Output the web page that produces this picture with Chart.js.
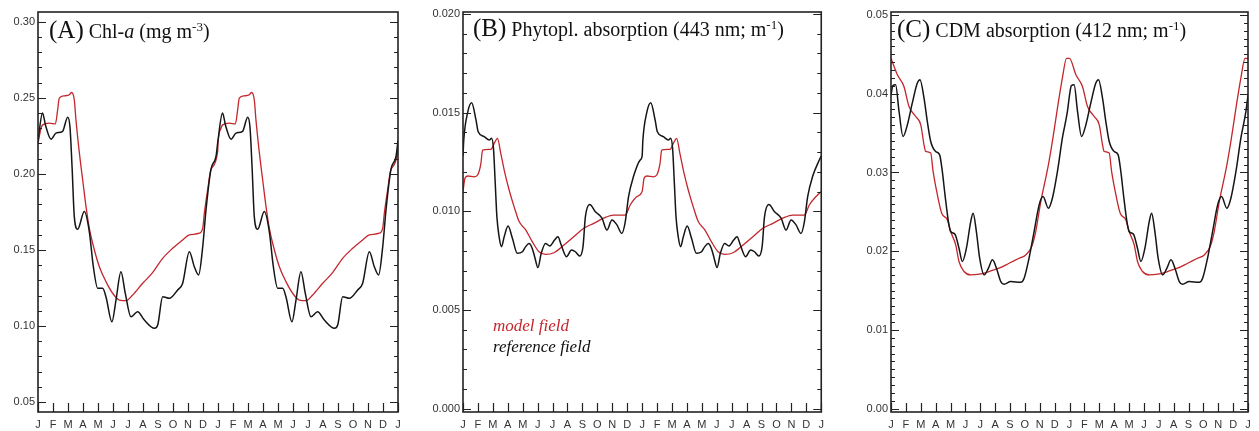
<!DOCTYPE html>
<html>
<head>
<meta charset="utf-8">
<script src="https://cdn.jsdelivr.net/npm/chart.js@4.4.0/dist/chart.umd.min.js"></script>
<style>
body { margin: 0; background: #fff; width: 1259px; height: 431px; position: relative; overflow: hidden; }
canvas { position: absolute; top: 0; }
.ttl { position: absolute; white-space: nowrap; color: #111; font-family: "Liberation Serif", "Times New Roman", serif; font-size: 20px; line-height: 24px; }
.ttl .big { font-size: 25px; }
.ttl sup { font-size: 13px; line-height: 0; vertical-align: 7px; }
.leg { position: absolute; left: 493px; top: 315px; font-family: "Liberation Serif", serif; font-style: italic; font-size: 17px; line-height: 21px; white-space: nowrap; }
</style>
</head>
<body>
<canvas id="chartA" width="410" height="431" style="left:0px"></canvas>
<canvas id="chartB" width="410" height="431" style="left:420px"></canvas>
<canvas id="chartC" width="409" height="431" style="left:850px"></canvas>

<div class="ttl" style="left:49px;top:18px"><span class="big">(A)</span> Chl-<i>a</i> (mg m<sup>-3</sup>)</div>
<div class="ttl" style="left:473px;top:16px"><span class="big">(B)</span> Phytopl. absorption (443 nm; m<sup>-1</sup>)</div>
<div class="ttl" style="left:897px;top:17px"><span class="big">(C)</span> CDM absorption (412 nm; m<sup>-1</sup>)</div>
<div class="leg"><div style="color:#c3262c">model field</div><div style="color:#111">reference field</div></div>

<script>
// month tick labels (two years + closing January)
const months = ["J","F","M","A","M","J","J","A","S","O","N","D",
                "J","F","M","A","M","J","J","A","S","O","N","D","J"];

// (A) Chl-a, one climatological year, x in months from 1 Jan
const chlRefX = [0, 0.3, 0.5, 0.87, 1.2, 1.64, 1.98, 2.13, 2.27, 2.42, 2.64, 3.09, 3.42, 3.69, 3.98, 4.31, 4.53, 4.93,
                 5.2, 5.53, 5.82, 6.2, 6.64, 7.09, 7.76, 7.98, 8.31, 8.76, 9.31, 9.64, 10.09, 10.42, 10.71, 10.98, 11.2, 11.53, 11.87];
const chlRef = [0.222, 0.240, 0.232, 0.2228, 0.2268, 0.228, 0.2373, 0.231, 0.2048, 0.1719, 0.1636, 0.1752, 0.1621, 0.139, 0.1248, 0.1248, 0.1193, 0.1028,
                0.1171, 0.1357, 0.1215, 0.1061, 0.1094, 0.1039, 0.0985, 0.1007, 0.1193, 0.1182, 0.1237, 0.128, 0.1489, 0.139, 0.1336, 0.152, 0.1763, 0.2029, 0.2116];
const chlModX = [0, 0.2, 0.31, 0.76, 1.16, 1.31, 1.42, 1.76, 2.09, 2.24, 2.42, 2.53, 2.76, 2.98, 3.2, 3.42, 3.76, 4.09, 4.53, 4.98,
                 5.42, 5.87, 6.31, 6.98, 7.64, 8.31, 8.98, 9.64, 10.09, 10.76, 10.98, 11.09, 11.31, 11.53, 11.98];
const chlMod = [0.220, 0.230, 0.2322, 0.2333, 0.2329, 0.2421, 0.2498, 0.2513, 0.252, 0.2535, 0.2486, 0.2355, 0.2136, 0.196, 0.1786, 0.1643, 0.150, 0.139, 0.1292, 0.1215,
                0.1171, 0.1167, 0.1204, 0.1281, 0.1351, 0.1445, 0.1511, 0.1566, 0.1599, 0.161, 0.1643, 0.1742, 0.1895, 0.2029, 0.2149];

// (B) phytoplankton absorption 443 nm
const aphRefX = [0, 0.05, 0.31, 0.58, 0.87, 1.02, 1.42, 1.76, 1.91, 2.04, 2.16, 2.27, 2.42, 2.58, 2.76, 3.02, 3.31, 3.64, 3.98,
                 4.2, 4.42, 4.64, 4.8, 5.02, 5.24, 5.53, 5.82, 6.13, 6.36, 6.58, 6.93, 7.27, 7.53, 7.82, 8.04, 8.2, 8.49,
                 8.87, 9.31, 9.64, 9.98, 10.31, 10.64, 10.87, 11.09, 11.42, 11.87];
const aphRef = [0.0128, 0.0136, 0.0150, 0.0155, 0.01463, 0.01403, 0.01378, 0.01361, 0.0137, 0.0132, 0.01142, 0.00973, 0.00871, 0.00821, 0.00871, 0.00925, 0.00863, 0.00787, 0.00795,
                0.00821, 0.00837, 0.00812, 0.0077, 0.00715, 0.00787, 0.00837, 0.00824, 0.00854, 0.00871, 0.00829, 0.0077, 0.00804, 0.00795, 0.00773, 0.00821, 0.00973, 0.01035,
                0.00998, 0.00965, 0.00905, 0.00956, 0.00931, 0.00888, 0.00947, 0.01074, 0.01176, 0.0126];
const aphModX = [0, 0.13, 0.31, 0.76, 0.98, 1.2, 1.31, 1.87, 2.09, 2.31, 2.53, 2.76, 3.09, 3.42, 3.76, 4.2, 4.64, 5.09,
                 5.53, 6.09, 6.76, 7.42, 8.09, 8.76, 9.42, 10.09, 10.87, 11.2, 11.64];
const aphMod = [0.0110, 0.01167, 0.01179, 0.01175, 0.01184, 0.01243, 0.0131, 0.01314, 0.01344, 0.0137, 0.01294, 0.01209, 0.01108, 0.01024, 0.00948, 0.00906, 0.00846, 0.00795,
                0.00782, 0.0079, 0.00829, 0.00871, 0.00914, 0.00939, 0.00965, 0.00981, 0.00981, 0.01032, 0.01074];

// (C) CDM absorption 412 nm
const cdmRefX = [0, 0.12, 0.31, 0.54, 0.81, 1.1, 1.43, 1.77, 1.95, 2.22, 2.44, 2.67, 3.0, 3.27, 3.45, 3.63, 3.86, 4.01, 4.3,
                 4.57, 4.8, 5.07, 5.36, 5.52, 5.74, 5.96, 6.26, 6.55, 6.82, 7.09, 7.38, 7.6, 8.05, 8.72, 8.95, 9.28,
                 9.62, 9.96, 10.22, 10.58, 10.85, 11.19, 11.52, 11.86];
const cdmRef = [0.0398, 0.0410, 0.04114, 0.03775, 0.03457, 0.03605, 0.03881, 0.04135, 0.04177, 0.03944, 0.03648, 0.03394, 0.03267, 0.03224, 0.03013, 0.02716, 0.02377, 0.0225, 0.02216,
                0.02038, 0.01869, 0.02038, 0.02377, 0.02483, 0.0225, 0.01911, 0.01699, 0.01784, 0.0189, 0.01784, 0.01614, 0.0158, 0.01614, 0.01606, 0.01657, 0.01911,
                0.0225, 0.02589, 0.02694, 0.02546, 0.02673, 0.03013, 0.03436, 0.03775];
const cdmModX = [0, 0.43, 0.87, 1.21, 1.66, 2.0, 2.22, 2.33, 2.67, 2.83, 3.12, 3.41, 3.79, 4.01, 4.35, 4.57, 4.91, 5.36,
                 5.92, 6.59, 7.26, 7.94, 8.61, 9.06, 9.46, 9.73, 10.07, 10.4, 10.58, 10.85, 11.19, 11.52, 11.8];
const cdmMod = [0.0445, 0.0424, 0.04092, 0.03838, 0.03711, 0.03605, 0.03351, 0.03267, 0.03246, 0.03013, 0.02715, 0.02483, 0.02398, 0.0225, 0.02081, 0.01869, 0.01742, 0.01699,
                0.01708, 0.01742, 0.01784, 0.01847, 0.01911, 0.01953, 0.0206, 0.0225, 0.02631, 0.02927, 0.03097, 0.03394, 0.03817, 0.04198, 0.0445];

// y tick labels
const yTicksA = [0.05, 0.10, 0.15, 0.20, 0.25, 0.30];
const yTicksB = [0.000, 0.005, 0.010, 0.015, 0.020];
const yTicksC = [0.00, 0.01, 0.02, 0.03, 0.04, 0.05];

// the climatology is plotted twice, Jan year 1 to Jan year 3
let twoYears = (xs, vs) => {
    let pts = [];
    for (let yr = 0; yr < 2; yr++) {
        xs.forEach((m, i) => pts.push({ x: m + 12 * yr, y: vs[i] }));
    }
    pts.push({ x: 24, y: vs[0] });
    return pts;
};

// IDL-like frame: box plus inward ticks on left, right and bottom
let framePlugin = (majorStep, minorStep) => ({
    id: "frame",
    afterDraw(chart) {
        let ctx = chart.ctx;
        let a = chart.chartArea;
        let ys = chart.scales.y;
        let xs = chart.scales.x;
        ctx.save();
        ctx.strokeStyle = "#222";
        ctx.lineWidth = 1.2;
        ctx.beginPath();
        let k0 = Math.ceil(ys.min / minorStep - 1e-6);
        let k1 = Math.floor(ys.max / minorStep + 1e-6);
        for (let k = k0; k <= k1; k++) {
            let v = k * minorStep;
            let r = v / majorStep;
            let major = Math.abs(r - Math.round(r)) < 1e-6;
            let len = major ? 8 : 4;
            let py = Math.round(ys.getPixelForValue(v)) + 0.5;
            ctx.moveTo(a.left, py); ctx.lineTo(a.left + len, py);
            ctx.moveTo(a.right, py); ctx.lineTo(a.right - len, py);
        }
        for (let i = 0; i <= 24; i++) {
            let px = Math.round(xs.getPixelForValue(i)) + 0.5;
            ctx.moveTo(px, a.bottom); ctx.lineTo(px, a.bottom - 9);
        }
        ctx.stroke();
        ctx.lineWidth = 1.6;
        ctx.strokeRect(a.left, a.top, a.right - a.left, a.bottom - a.top);
        ctx.restore();
    }
});

let makePanel = (id, p) => {
    new Chart(document.getElementById(id), {
        type: "line",
        data: {
            datasets: [
                {
                    label: "reference field",
                    data: twoYears(p.refX, p.ref),
                    borderColor: "#151515",
                    borderWidth: 1.5,
                    cubicInterpolationMode: "monotone"
                },
                {
                    label: "model field",
                    data: twoYears(p.modX, p.mod),
                    borderColor: "#c3262c",
                    borderWidth: 1.3,
                    cubicInterpolationMode: "monotone"
                }
            ]
        },
        options: {
            responsive: false,
            animation: false,
            layout: { padding: { top: 12, right: p.padRight, left: 0, bottom: 0 } },
            elements: { point: { radius: 0 } },
            plugins: { legend: { display: false }, tooltip: { enabled: false } },
            scales: {
                x: {
                    type: "linear",
                    min: 0,
                    max: 24,
                    grid: { display: false, drawTicks: false },
                    border: { display: false },
                    afterBuildTicks: s => { s.ticks = months.map((m, i) => ({ value: i })); },
                    afterFit: s => { s.height = 19; },
                    ticks: {
                        autoSkip: false,
                        maxRotation: 0,
                        padding: 6,
                        color: "#333",
                        font: { family: "Liberation Sans", size: 11 },
                        callback: (v, i) => months[i]
                    }
                },
                y: {
                    min: p.ymin,
                    max: p.ymax,
                    grid: { display: false, drawTicks: false },
                    border: { display: false },
                    afterBuildTicks: s => { s.ticks = p.ticks.map(v => ({ value: v })); },
                    afterFit: s => { s.width = p.yWidth; },
                    ticks: {
                        padding: 3,
                        color: "#333",
                        font: { family: "Liberation Sans", size: 11 },
                        callback: v => v.toFixed(p.dec)
                    }
                }
            }
        },
        plugins: [framePlugin(p.major, p.minor)]
    });
};

makePanel("chartA", {
    refX: chlRefX, ref: chlRef, modX: chlModX, mod: chlMod,
    ticks: yTicksA, dec: 2, ymin: 0.0435, ymax: 0.3064, major: 0.05, minor: 0.01,
    yWidth: 38, padRight: 12
});
makePanel("chartB", {
    refX: aphRefX, ref: aphRef, modX: aphModX, mod: aphMod,
    ticks: yTicksB, dec: 3, ymin: -0.00017, ymax: 0.0201, major: 0.005, minor: 0.001,
    yWidth: 43, padRight: 7
});
makePanel("chartC", {
    refX: cdmRefX, ref: cdmRef, modX: cdmModX, mod: cdmMod,
    ticks: yTicksC, dec: 2, ymin: -0.00042, ymax: 0.05038, major: 0.01, minor: 0.001,
    yWidth: 41, padRight: 11
});
</script>
</body>
</html>
